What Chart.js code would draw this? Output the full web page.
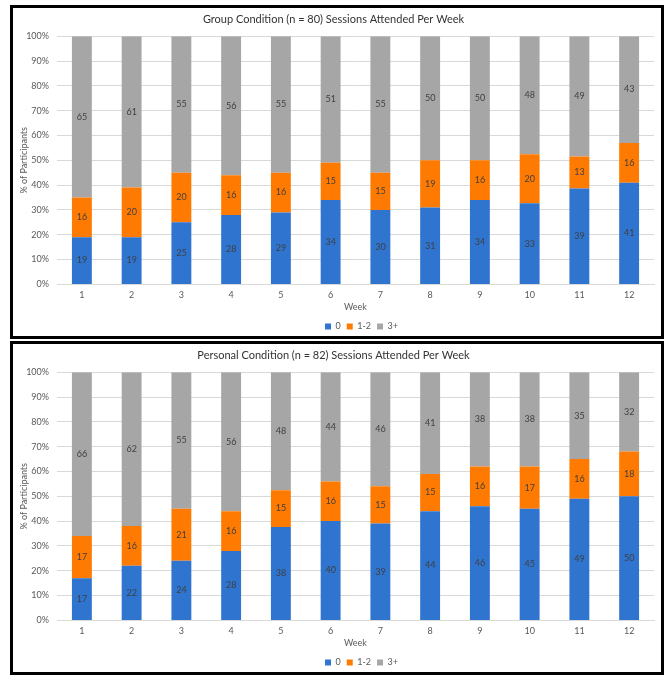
<!DOCTYPE html>
<html>
<head>
<meta charset="utf-8">
<script src="https://cdn.jsdelivr.net/npm/chart.js@4"></script>
<style>
    body { margin: 0; background: #fff; }
    .box {
        position: absolute;
        left: 10px;
        width: 648px;
        height: 328px;
        border: 3px solid #000;
        background: #fff;
    }
    #box1 { top: 5px; }
    #box2 { top: 341px; }
    canvas { display: block; }
</style>
</head>
<body>
<div class="box" id="box1"><canvas id="groupChart" width="648" height="328"></canvas></div>
<div class="box" id="box2"><canvas id="personalChart" width="648" height="328"></canvas></div>
<script>
const weeks = ['1', '2', '3', '4', '5', '6', '7', '8', '9', '10', '11', '12'];
const seriesNames = ['0', '1-2', '3+'];

// Group condition (n = 80), % of participants per week
const groupZero = [19, 19, 25, 28, 29, 34, 30, 31, 34, 33, 39, 41];
const groupOneTwo = [16, 20, 20, 16, 16, 15, 15, 19, 16, 20, 13, 16];
const groupThreePlus = [65, 61, 55, 56, 55, 51, 55, 50, 50, 48, 49, 43];

// Personal condition (n = 82)
const personalZero = [17, 22, 24, 28, 38, 40, 39, 44, 46, 45, 49, 50];
const personalOneTwo = [17, 16, 21, 16, 15, 16, 15, 15, 16, 17, 16, 18];
const personalThreePlus = [66, 62, 55, 56, 48, 44, 46, 41, 38, 38, 35, 32];

const yTicks = [0, 10, 20, 30, 40, 50, 60, 70, 80, 90, 100];

const colors = ['#2F74CE', '#FF7A00', '#A6A6A6'];
const fontFamily = 'Lato, "Open Sans", sans-serif';

// draws the raw value in the middle of each segment
const segmentLabels = {
    id: 'segmentLabels',
    afterDatasetsDraw(chart) {
        const ctx = chart.ctx;
        ctx.save();
        ctx.font = '9px ' + fontFamily;
        ctx.fillStyle = '#404040';
        ctx.textAlign = 'center';
        ctx.textBaseline = 'middle';
        chart.data.datasets.forEach((ds, i) => {
            const meta = chart.getDatasetMeta(i);
            meta.data.forEach((bar, j) => {
                ctx.fillText(ds.raw[j], bar.x, (bar.y + bar.base) / 2);
            });
        });
        ctx.restore();
    }
};

// legend sits centred under the plot area rather than the whole canvas
const legendShift = {
    id: 'legendShift',
    afterLayout(chart) {
        const lg = chart.legend;
        const dx = (chart.chartArea.left + chart.chartArea.right) / 2 - (lg.left + lg.right) / 2 + 6;
        lg.left += dx;
        lg.right += dx;
    }
};

function makeChart(canvasId, titleText, zero, oneTwo, threePlus) {
    const raw = [zero, oneTwo, threePlus];
    const totals = weeks.map((_, i) => zero[i] + oneTwo[i] + threePlus[i]);
    const datasets = raw.map((values, k) => ({
        label: seriesNames[k],
        raw: values,
        data: values.map((v, i) => v / totals[i] * 100),
        backgroundColor: colors[k],
        barPercentage: 0.4,
        categoryPercentage: 1
    }));

    return new Chart(document.getElementById(canvasId), {
        type: 'bar',
        data: { labels: weeks, datasets: datasets },
        plugins: [segmentLabels, legendShift],
        options: {
            responsive: false,
            animation: false,
            layout: { padding: { left: 0, right: 7, top: 2, bottom: -5 } },
            plugins: {
                title: {
                    display: true,
                    text: titleText,
                    color: '#333',
                    font: { family: fontFamily, size: 11, weight: 'normal' },
                    padding: { top: 3, bottom: 10 }
                },
                legend: {
                    position: 'bottom',
                    labels: {
                        boxWidth: 6,
                        boxHeight: 6,
                        padding: 6,
                        color: '#595959',
                        font: { family: fontFamily, size: 9 }
                    }
                },
                tooltip: { enabled: false }
            },
            scales: {
                x: {
                    stacked: true,
                    grid: { display: false, drawTicks: false },
                    border: { color: '#d9d9d9' },
                    ticks: { padding: 5, color: '#595959', font: { family: fontFamily, size: 9 } },
                    title: {
                        display: true,
                        text: 'Week',
                        color: '#595959',
                        font: { family: fontFamily, size: 9 },
                        padding: { top: -4, bottom: 4 }
                    }
                },
                y: {
                    stacked: true,
                    min: 0,
                    max: 100,
                    afterBuildTicks: (scale) => {
                        scale.ticks = yTicks.map(v => ({ value: v }));
                    },
                    afterFit: (scale) => { scale.width = 44; },
                    grid: { color: '#d9d9d9', drawTicks: false },
                    border: { display: false },
                    ticks: {
                        padding: 8,
                        color: '#595959',
                        font: { family: fontFamily, size: 9 },
                        callback: (v) => v + '%'
                    },
                    title: {
                        display: true,
                        text: '% of Participants',
                        color: '#595959',
                        font: { family: fontFamily, size: 9 },
                        padding: { top: 6, bottom: 4 }
                    }
                }
            }
        }
    });
}

makeChart('groupChart', 'Group Condition (n = 80) Sessions Attended Per Week',
    groupZero, groupOneTwo, groupThreePlus);
makeChart('personalChart', 'Personal Condition (n = 82) Sessions Attended Per Week',
    personalZero, personalOneTwo, personalThreePlus);
</script>
</body>
</html>
